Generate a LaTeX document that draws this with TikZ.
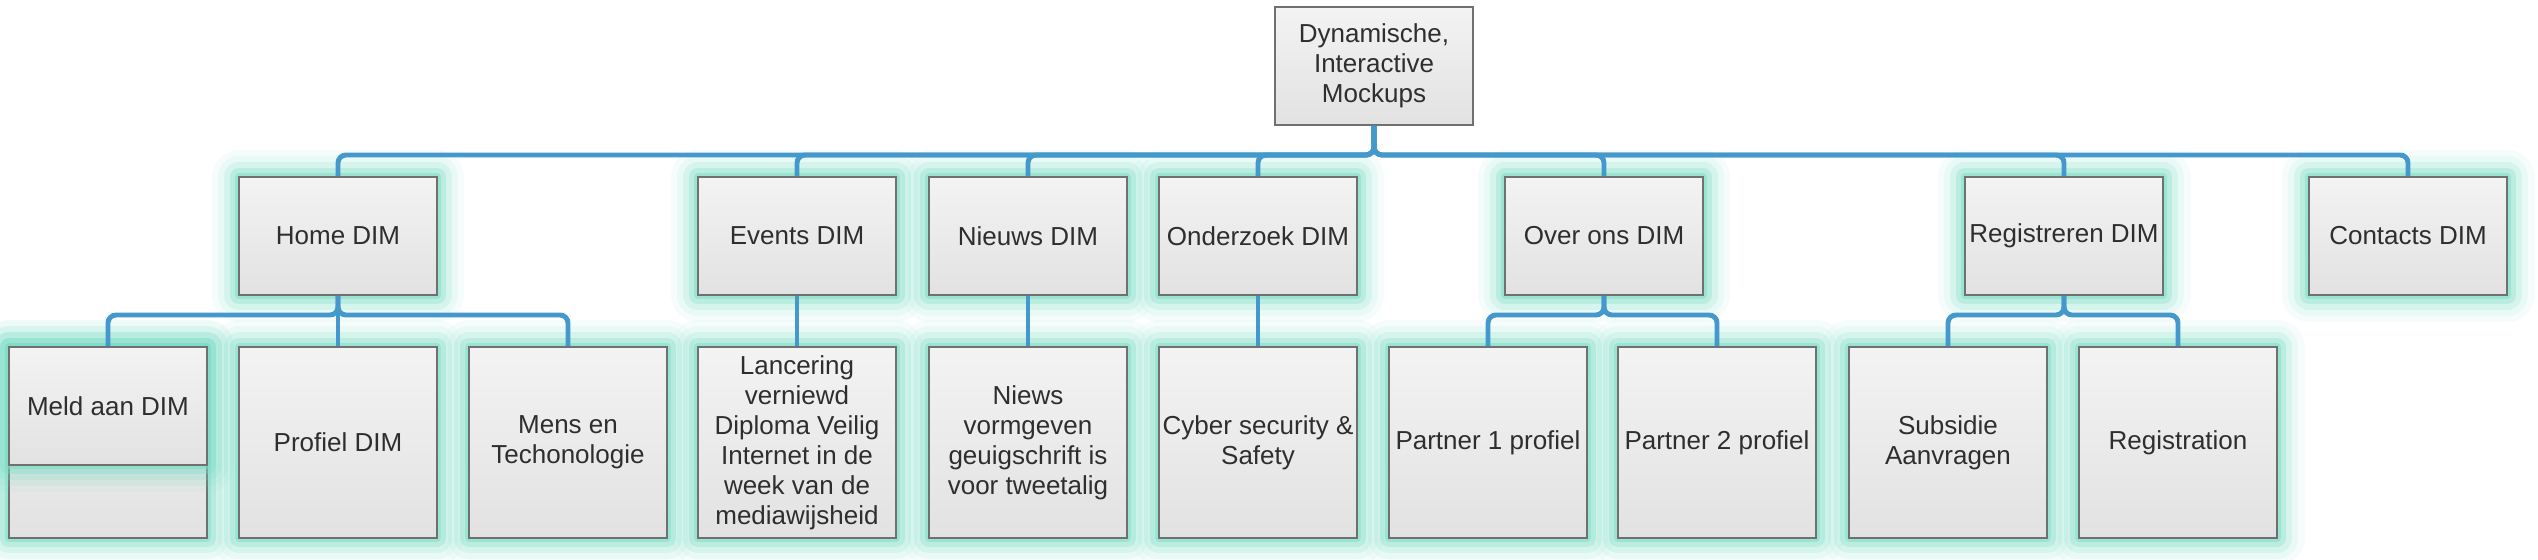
\documentclass[tikz,border=0pt]{standalone}
\usepackage{fontspec}
\setmainfont{Liberation Sans}
\usetikzlibrary{calc}

\definecolor{linkblue}{HTML}{4498CC}
\definecolor{glowteal}{HTML}{7ADBC4}
\definecolor{boxline}{HTML}{707070}
\definecolor{boxtop}{HTML}{F3F3F3}
\definecolor{boxbot}{HTML}{E2E2E2}
\definecolor{txtgray}{HTML}{2E2E2E}

\begin{document}
\begin{tikzpicture}[x=0.02cm,y=-0.02cm,
    page/.style={draw=boxline, line width=1.1pt, top color=boxtop, bottom color=boxbot,
      text=txtgray, align=center, font=\fontsize{14.8}{17.1}\selectfont,
      minimum width=3.96cm, minimum height=2.36cm, inner sep=0pt},
    tall/.style={minimum height=3.82cm},
    glow/.style={
      preaction={draw=glowteal, line join=round, line width=1.1cm, opacity=0.07},
      preaction={draw=glowteal, line join=round, line width=0.85cm, opacity=0.1},
      preaction={draw=glowteal, line join=round, line width=0.6cm, opacity=0.18},
      preaction={draw=glowteal, line join=round, line width=0.36cm, opacity=0.3},
      preaction={draw=glowteal, line join=round, line width=0.16cm, opacity=0.5}},
    link/.style={draw=linkblue, line width=2.8pt, rounded corners=0.16cm}]
  \useasboundingbox (0,0) rectangle (2538,560);
  % root
  \node[page] (top) at (1374,66) {Dynamische,\\Interactive\\Mockups};
  % first level
  \node[page,glow] (home)      at (338,236)  {Home DIM};
  \node[page,glow] (events)    at (797,236)  {Events DIM};
  \node[page,glow] (nieuws)    at (1028,236) {Nieuws DIM};
  \node[page,glow] (onderzoek) at (1258,236) {Onderzoek DIM};
  \node[page,glow] (over)      at (1604,236) {Over ons DIM};
  \node[page,glow] (regis)     at (2064,236) {Registreren DIM};
  \node[page,glow] (contacts)  at (2408,236) {Contacts DIM};
  % second level
  \node[page,tall,glow] (meldbg) at (108,442.5) {};
  \node[page,glow] (meld) at (108,406) {Meld aan DIM};
  \node[page,tall,glow] (profiel)   at (338,442.5)  {Profiel DIM};
  \node[page,tall,glow] (mens)      at (568,442.5)  {Mens en\\Techonologie};
  \node[page,tall,glow] (lancering) at (797,442.5)  {Lancering\\verniewd\\Diploma Veilig\\Internet in de\\week van de\\mediawijsheid};
  \node[page,tall,glow] (niews)     at (1028,442.5) {Niews\\vormgeven\\geuigschrift is\\voor tweetalig};
  \node[page,tall,glow] (cyber)     at (1258,442.5) {Cyber security \&\\Safety};
  \node[page,tall,glow] (partnera)  at (1488,442.5) {Partner 1 profiel};
  \node[page,tall,glow] (partnerb)  at (1717,442.5) {Partner 2 profiel};
  \node[page,tall,glow] (subsidie)  at (1948,442.5) {Subsidie\\Aanvragen};
  \node[page,tall,glow] (registration) at (2178,442.5) {Registration};
  % bus levels
  \coordinate (bus0) at (0,155);
  \coordinate (bus1) at (0,315);
  % connectors
  \foreach \n in {home,events,nieuws,onderzoek,over,regis,contacts}
    \draw[link] (top.south) |- (bus0 -| \n.north) -- (\n.north);
  \foreach \p/\c in {home/meld,home/mens,over/partnera,over/partnerb,regis/subsidie,regis/registration}
    \draw[link] (\p.south) |- (bus1 -| \c.north) -- (\c.north);
  \foreach \p/\c in {home/profiel,events/lancering,nieuws/niews,onderzoek/cyber}
    \draw[link] (\p.south) -- (\c.north);
\end{tikzpicture}
\end{document}
